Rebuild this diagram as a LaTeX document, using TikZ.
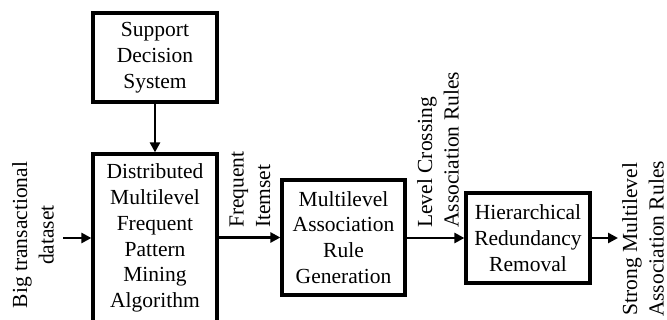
\documentclass[tikz,border=0pt]{standalone}
\usepackage{fontspec}
\setmainfont{Liberation Serif}
\usetikzlibrary{arrows.meta}
\begin{document}
\begin{tikzpicture}[x=1pt,y=1pt,
  blk/.style={draw,line width=3.2pt,align=center,inner sep=0pt,font=\fontsize{21.5}{25.8}\selectfont},
  lbl/.style={rotate=90,inner sep=0pt,font=\fontsize{21.5}{26.5}\selectfont},
  arr/.style={line width=2.8pt,-{Triangle[length=10pt,width=10pt]}}]
\useasboundingbox (0,0) rectangle (667,-320);
\node[blk,minimum width=124pt,minimum height=89pt] (sds) at (155,-57.5) {Support\\Decision\\System};
\node[blk,minimum width=124pt,minimum height=168pt] (dmf) at (155,-238) {Distributed\\Multilevel\\Frequent\\Pattern\\Mining\\Algorithm};
\node[blk,minimum width=123pt,minimum height=115pt] (mar) at (343.5,-237.5) {Multilevel\\Association\\Rule\\Generation};
\node[blk,minimum width=124pt,minimum height=90pt] (hrr) at (528,-238) {Hierarchical\\Redundancy\\Removal};
\coordinate (in) at (63,-238);
\coordinate (out) at (618,-238);
\node[lbl,align=center] (lin) at (33,-235) {Big transactional\\dataset};
\node[lbl,align=left,anchor=west] (lfi) at (250,-228) {Frequent\\Itemset};
\node[lbl,align=left,anchor=west] (llc) at (438,-228) {Level Crossing\\Association Rules};
\node[lbl,align=center] (lout) at (643,-239) {Strong Multilevel\\Association Rules};
\draw[arr] (sds) -- (dmf);
\draw[arr] (in) -- (in -| dmf.west);
\draw[arr] (dmf.east |- mar) -- (mar.west);
\draw[arr] (mar.east |- hrr) -- (hrr.west);
\draw[arr] (hrr.east) -- (out);
\end{tikzpicture}
\end{document}
